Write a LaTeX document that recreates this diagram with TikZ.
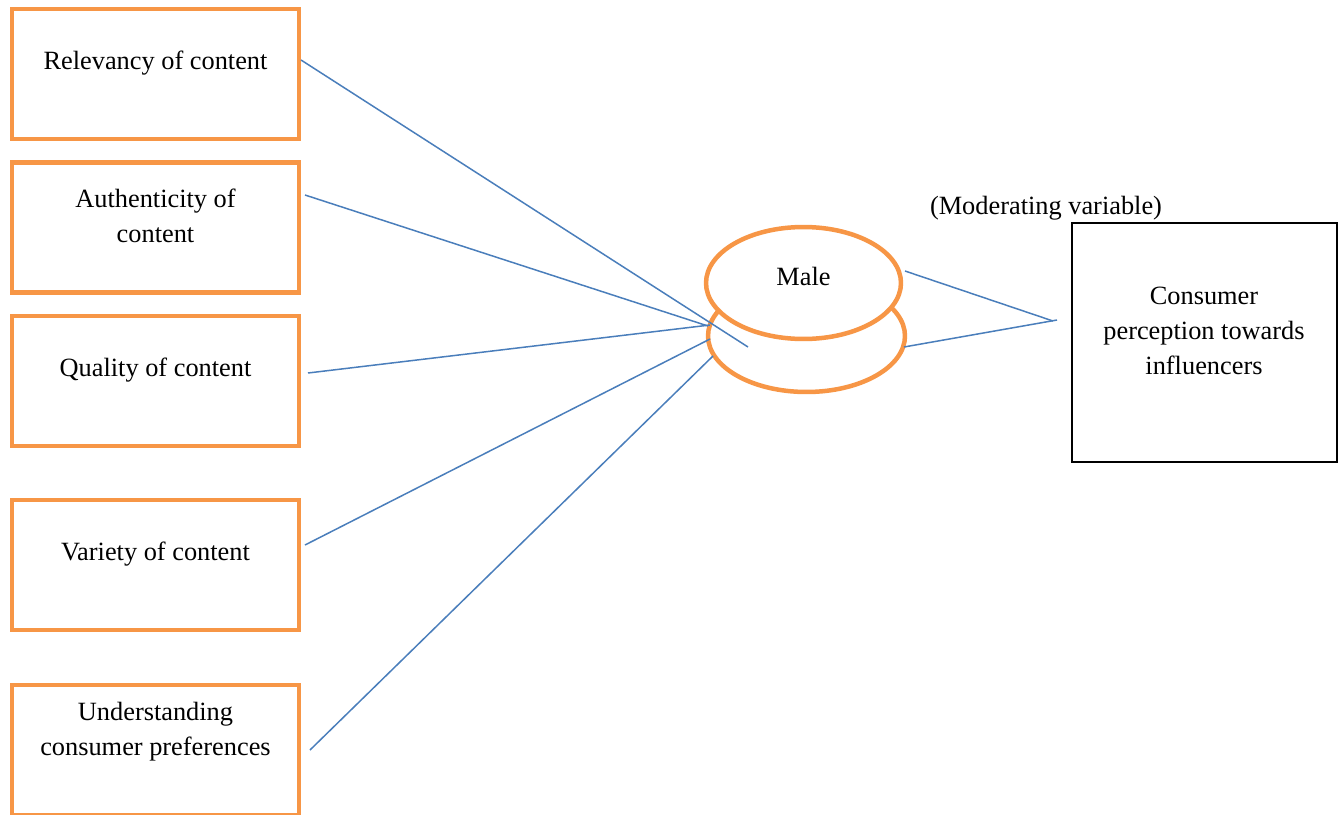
\documentclass[tikz,border=0pt]{standalone}
\usepackage{fontspec}
\setmainfont{Liberation Serif}
\usetikzlibrary{shapes.geometric}
\definecolor{boxorange}{HTML}{F79646}
\definecolor{lineblue}{HTML}{4A7EBB}

\tikzset{
	factor/.style={draw=boxorange,line width=0.09cm,minimum width=5.74cm,minimum height=2.6cm,inner sep=0pt},
	gender/.style={ellipse,draw=boxorange,line width=0.09cm,fill=white,inner sep=0pt},
	txt/.style={align=center,font=\fontsize{15}{20}\selectfont,inner sep=0pt},
	link/.style={draw=lineblue,line width=0.03cm},
}

\begin{document}
\begin{tikzpicture}[x=0.02cm,y=-0.02cm]
	\useasboundingbox (0,0) rectangle (1340,815);
	% independent variables
	\foreach \n/\y/\ty/\t in {rel/74/63/{Relevancy of content},auth/227.5/216/{Authenticity of\\content},qual/381/370/{Quality of content},var/565/554/{Variety of content},pref/750/731.5/{Understanding\\consumer preferences}}{
		\node[factor] (\n) at (155.5,\y) {};
		\node[txt] (\n-t) at (155.5,\ty) {\t};
	}
	% moderating variable
	\node[gender,minimum width=3.94cm,minimum height=2.24cm] (base) at (806.5,336) {};
	\node[gender,minimum width=3.9cm,minimum height=2.24cm] (male) at (803.5,283) {};
	\node[txt] (male-t) at (803.5,276) {Male};
	\node[txt] (mod) at (1046,208) {(Moderating variable)};
	% dependent variable
	\node[draw,line width=0.04cm,minimum width=5.3cm,minimum height=4.78cm] (cons) at (1204.5,342.5) {};
	\node[txt] (cons-t) at (1204,331) {Consumer\\perception towards\\influencers};
	% line ends
	\coordinate (rel-o) at (301,60);
	\coordinate (auth-o) at (305,195);
	\coordinate (qual-o) at (308,373);
	\coordinate (var-o) at (305,545);
	\coordinate (pref-o) at (310,750);
	\coordinate (rel-i) at (748,347);
	\coordinate (auth-i) at (708,326);
	\coordinate (qual-i) at (710,325);
	\coordinate (var-i) at (710,339);
	\coordinate (pref-i) at (713,356);
	\coordinate (male-o) at (905,271);
	\coordinate (base-o) at (904,347);
	\coordinate (cons-a) at (1053,321);
	\coordinate (cons-b) at (1057,320);
	\foreach \n in {rel,auth,qual,var,pref}{
		\draw[link] (\n-o) -- (\n-i);
	}
	\draw[link] (male-o) -- (cons-a);
	\draw[link] (base-o) -- (cons-b);
\end{tikzpicture}
\end{document}
